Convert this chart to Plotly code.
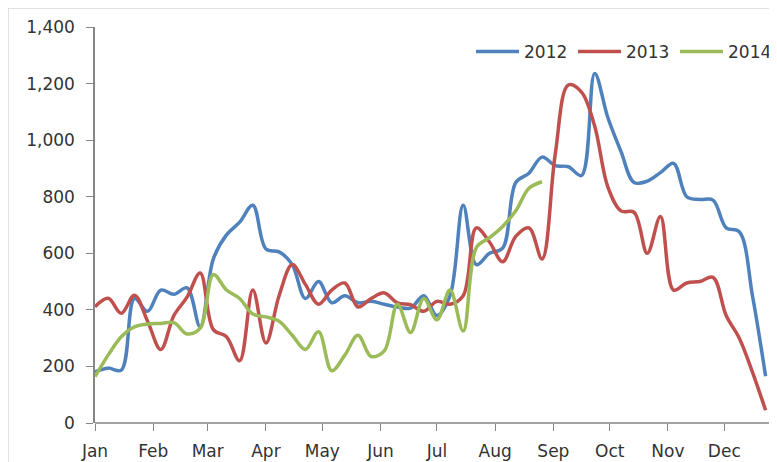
import datetime as dt
import plotly.graph_objects as go

# weekly points, week 0 = 1 Jan
weeks = list(range(52))
start = dt.date(2012, 1, 1)
dates = [start + dt.timedelta(days=7 * w) for w in weeks]

y2012 = [181, 194, 187, 440, 395, 470, 455, 478, 340, 580, 665, 710, 770,
         615, 605, 560, 440, 500, 425, 450, 425, 430, 420, 410, 406, 450,
         380, 450, 770, 560, 600, 618, 850, 883, 940, 910, 906, 875, 1236,
         1080, 960, 850, 855, 885, 918, 800, 790, 788, 690, 676, 450, 165]

y2013 = [411, 441, 388, 452, 360, 260, 380, 445, 530, 330, 305, 220, 470,
         283, 450, 560, 490, 420, 470, 495, 410, 440, 460, 425, 418, 395,
         430, 420, 450, 690, 640, 570, 660, 690, 580, 950, 1195, 1170, 1050,
         835, 750, 745, 600, 730, 470, 495, 500, 515, 380, 300, 180, 45]

y2014 = [164, 240, 305, 340, 350, 352, 355, 315, 335, 525, 470, 440, 385,
         375, 360, 310, 260, 323, 185, 240, 310, 235, 255, 420, 320, 440,
         365, 470, 325, 620, 655, 695, 750, 830, 853]

series = [("2012", y2012, "#4F81BD"),
          ("2013", y2013, "#C0504D"),
          ("2014", y2014, "#9BBB59")]

y_ticks = [0, 200, 400, 600, 800, 1000, 1200, 1400]

fig = go.Figure()
for name, vals, color in series:
    fig.add_trace(go.Scatter(
        x=dates[:len(vals)], y=vals, name=name, mode="lines",
        line=dict(color=color, width=3.5, shape="spline", smoothing=1.0),
    ))

font = dict(family="DejaVu Sans", size=17, color="#333333")

fig.update_layout(
    width=769, height=454,
    margin=dict(l=87, r=0, t=19, b=39, autoexpand=False),
    paper_bgcolor="white", plot_bgcolor="white",
    font=font,
    showlegend=True,
    legend=dict(orientation="h", x=1.0, xanchor="right", y=0.937,
                yanchor="middle", bgcolor="rgba(0,0,0,0)",
                font=dict(family="DejaVu Sans", size=17, color="#333333"),
                itemwidth=43, entrywidth=44, entrywidthmode="pixels",
                tracegroupgap=0),
    xaxis=dict(type="date", range=["2012-01-01", "2012-12-29 01:30"],
               dtick="M1", tick0="2012-01-01", tickformat="%b",
               ticks="outside", ticklen=7, tickcolor="#868686",
               ticklabelstandoff=6, automargin=False,
               showline=False, showgrid=False, zeroline=False),
    yaxis=dict(range=[0, 1400], tickvals=y_ticks,
               tickformat=",d", ticks="outside", ticklen=7,
               tickcolor="#868686", ticklabelstandoff=8, automargin=False,
               showline=True, linecolor="#868686", linewidth=1.5,
               showgrid=False, zeroline=False),
    shapes=[dict(type="rect", xref="paper", yref="paper",
                 x0=-0.12757, x1=1.05, y0=-0.3, y1=1.048,
                 line=dict(color="#D9D9D9", width=1.5),
                 fillcolor="rgba(0,0,0,0)", layer="below"),
            dict(type="line", xref="paper", yref="paper",
                 x0=0, x1=0.98974, y0=0, y1=0,
                 line=dict(color="#868686", width=1.5), layer="below")],
)

fig.write_html("out.html")
